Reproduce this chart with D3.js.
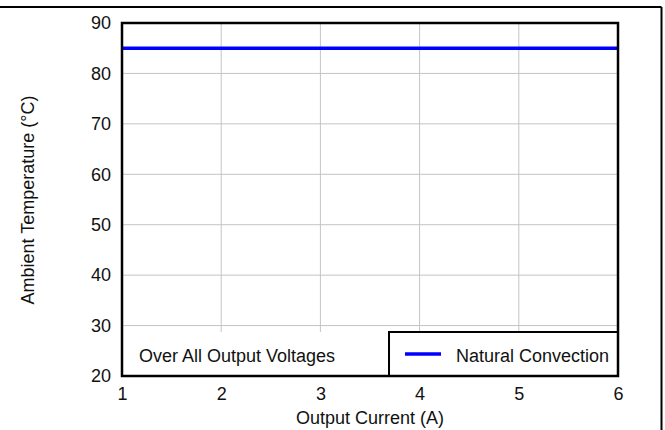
<!DOCTYPE html>
<html>
<head>
<meta charset="utf-8">
<script src="https://cdn.jsdelivr.net/npm/d3@7"></script>
<style>
  html, body { margin: 0; padding: 0; background: #fff; }
  svg { display: block; font-family: "Liberation Sans", Arial, sans-serif; }
</style>
</head>
<body>
<svg id="chart" width="665" height="430"></svg>
<script>
// Derating data: ambient temperature limit vs output current
const currents = [1, 2, 3, 4, 5, 6];
const ambientNatural = [85, 85, 85, 85, 85, 85];
const xTicks = [1, 2, 3, 4, 5, 6];
const yTicks = [20, 30, 40, 50, 60, 70, 80, 90];
const seriesName = "Natural Convection";
const noteText = "Over All Output Voltages";

const svg = d3.select("#chart");
const W = 665, H = 430;
const FS = 18;
const plot = { left: 122, right: 618, top: 23, bottom: 376 };

const x = d3.scaleLinear().domain([1, 6]).range([plot.left, plot.right]);
const y = d3.scaleLinear().domain([20, 90]).range([plot.bottom, plot.top]);

// page frame (top and right edges)
svg.append("line").attr("x1", 0).attr("x2", 661.5).attr("y1", 7).attr("y2", 7)
  .attr("stroke", "#000").attr("stroke-width", 2);
svg.append("line").attr("x1", 661.5).attr("x2", 661.5).attr("y1", 7).attr("y2", H)
  .attr("stroke", "#000").attr("stroke-width", 2);

// grid
const grid = svg.append("g");
grid.selectAll("line.v").data(xTicks.slice(1, -1)).join("line")
  .attr("x1", d => x(d)).attr("x2", d => x(d))
  .attr("y1", plot.top).attr("y2", plot.bottom)
  .attr("stroke", "#c4c4c4").attr("stroke-width", 1);
grid.selectAll("line.h").data(yTicks.slice(1, -1)).join("line")
  .attr("x1", plot.left).attr("x2", plot.right)
  .attr("y1", d => y(d)).attr("y2", d => y(d))
  .attr("stroke", "#c4c4c4").attr("stroke-width", 1);

// axes labels
const yAxis = d3.axisLeft(y).tickValues(yTicks).tickSize(0).tickPadding(11)
  .tickFormat(d3.format("d"));
const gy = svg.append("g").attr("transform", `translate(${plot.left},0)`).call(yAxis);
const xAxis = d3.axisBottom(x).tickValues(xTicks).tickSize(0).tickPadding(11)
  .tickFormat(d3.format("d"));
const gx = svg.append("g").attr("transform", `translate(0,${plot.bottom})`).call(xAxis);
[gx, gy].forEach(g => {
  g.select(".domain").remove();
  g.selectAll("text").attr("font-size", FS).attr("fill", "#111")
    .attr("font-family", "Liberation Sans, Arial, sans-serif");
});

// data line
const line = d3.line().x((d, i) => x(currents[i])).y(d => y(d));
svg.append("path").datum(ambientNatural).attr("d", line)
  .attr("fill", "none").attr("stroke", "#0000ff").attr("stroke-width", 3.5);

// note box (white, no border)
const boxTop = 332;
const legendLeft = 389;
svg.append("rect").attr("x", plot.left).attr("y", boxTop)
  .attr("width", legendLeft - plot.left).attr("height", plot.bottom - boxTop)
  .attr("fill", "#fff");
svg.append("text").attr("x", 139).attr("y", 362)
  .attr("font-size", FS).attr("fill", "#111").text(noteText);

// legend box
svg.append("rect").attr("x", legendLeft).attr("y", boxTop)
  .attr("width", plot.right - legendLeft).attr("height", plot.bottom - boxTop)
  .attr("fill", "#fff").attr("stroke", "#000").attr("stroke-width", 2);
svg.append("line").attr("x1", 405).attr("x2", 441).attr("y1", 354).attr("y2", 354)
  .attr("stroke", "#0000ff").attr("stroke-width", 3.5);
svg.append("text").attr("x", 456).attr("y", 362)
  .attr("font-size", FS).attr("fill", "#111").text(seriesName);

// plot frame
svg.append("rect").attr("x", plot.left).attr("y", plot.top)
  .attr("width", plot.right - plot.left).attr("height", plot.bottom - plot.top)
  .attr("fill", "none").attr("stroke", "#000").attr("stroke-width", 2.5);

// axis titles
svg.append("text").attr("x", (plot.left + plot.right) / 2).attr("y", 424)
  .attr("text-anchor", "middle").attr("font-size", FS).attr("fill", "#111")
  .text("Output Current (A)");
svg.append("text").attr("transform", "translate(34,200) rotate(-90)")
  .attr("text-anchor", "middle").attr("font-size", FS).attr("fill", "#111")
  .text("Ambient Temperature (°C)");
</script>
</body>
</html>
